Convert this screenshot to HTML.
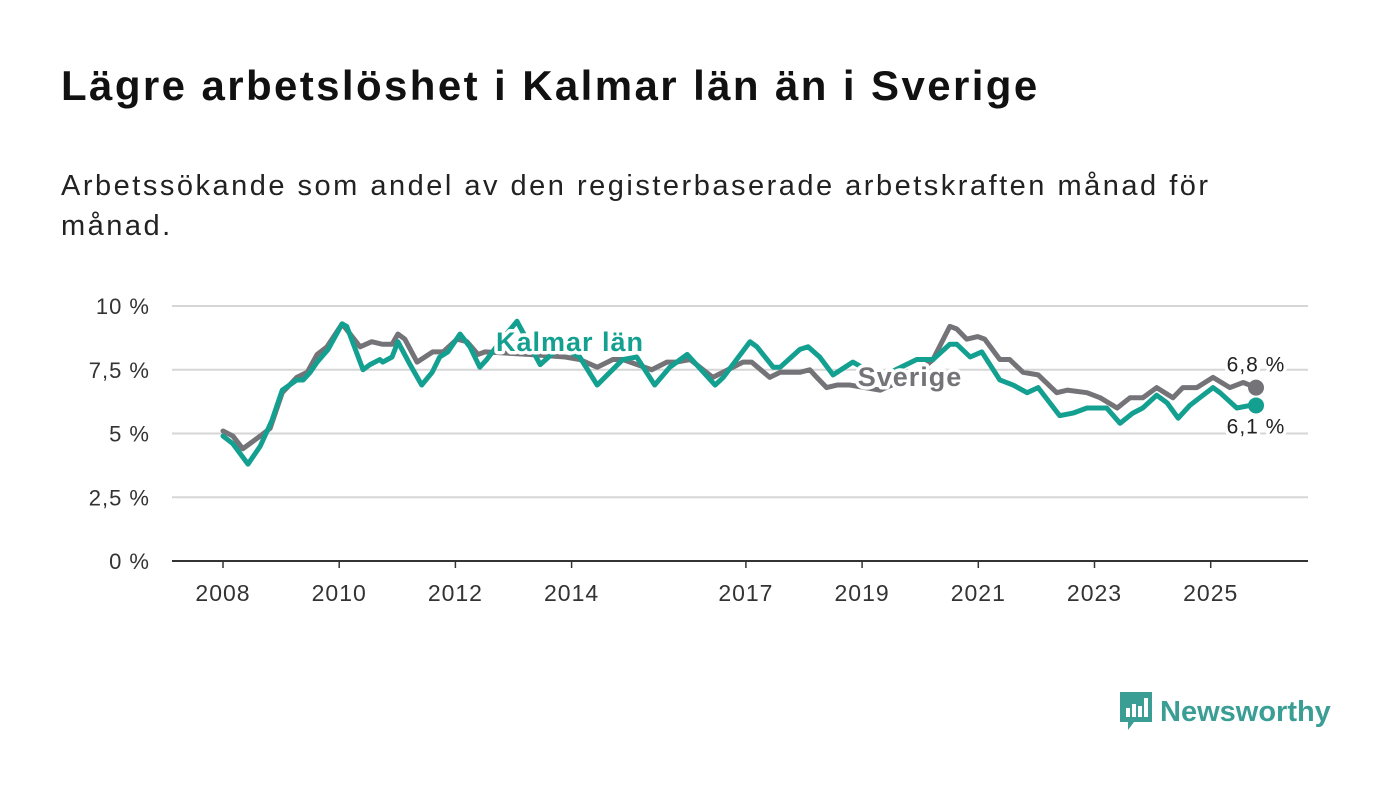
<!DOCTYPE html>
<html><head><meta charset="utf-8"><style>
body{margin:0;width:1400px;height:794px;background:#fff;font-family:"Liberation Sans",sans-serif;overflow:hidden;position:relative}
h1{position:absolute;left:61px;top:62px;margin:0;font-size:42px;font-weight:bold;color:#111;letter-spacing:2.4px;white-space:nowrap}
.sub{position:absolute;left:61px;top:166px;margin:0;font-size:29px;line-height:40px;color:#222;width:1300px;letter-spacing:2.5px;white-space:nowrap}
svg{position:absolute;left:0;top:0}
.logo{position:absolute;left:1118px;top:690px;display:flex;align-items:center}
</style></head><body>
<h1>Lägre arbetslöshet i Kalmar län än i Sverige</h1>
<p class="sub">Arbetssökande som andel av den registerbaserade arbetskraften månad för<br>månad.</p>
<svg id="chart" width="1400" height="794"></svg>
<div class="logo">
<svg width="36" height="44" style="position:static"><path d="M2 2h32v30h-18l-6 8v-8h-8z" fill="#3a9e95"/><rect x="8" y="18" width="4" height="9" fill="#fff"/><rect x="14" y="14" width="4" height="13" fill="#fff"/><rect x="20" y="16" width="4" height="11" fill="#fff"/><rect x="26" y="8" width="4" height="19" fill="#fff"/></svg>
<span style="font-size:29px;font-weight:bold;color:#3a9e95;margin-left:6px">Newsworthy</span></div>
<script>
const kalmarDates=[2008.00,2008.17,2008.43,2008.64,2008.84,2009.02,2009.27,2009.38,2009.50,2009.62,2009.81,2010.05,2010.13,2010.41,2010.53,2010.70,2010.75,2010.91,2011.01,2011.22,2011.42,2011.60,2011.73,2011.87,2012.08,2012.25,2012.42,2012.54,2012.77,2013.06,2013.46,2013.80,2014.14,2014.44,2014.88,2015.12,2015.43,2015.69,2015.99,2016.47,2016.61,2017.07,2017.19,2017.47,2017.59,2017.93,2018.07,2018.27,2018.50,2018.84,2019.31,2019.94,2020.22,2020.51,2020.63,2020.86,2021.06,2021.37,2021.60,2021.84,2022.03,2022.40,2022.63,2022.87,2023.21,2023.44,2023.66,2023.83,2024.07,2024.25,2024.44,2024.64,2024.81,2025.04,2025.16,2025.45,2025.68,2025.78];
const kalmarValues=[4.9,4.6,3.8,4.5,5.5,6.7,7.1,7.1,7.4,7.8,8.3,9.3,9.2,7.5,7.7,7.9,7.8,8.0,8.6,7.7,6.9,7.4,8.0,8.2,8.9,8.4,7.6,7.9,8.6,9.4,7.7,8.4,8.0,6.9,7.9,8.0,6.9,7.6,8.1,6.9,7.2,8.6,8.4,7.6,7.6,8.3,8.4,8.0,7.3,7.8,7.2,7.9,7.9,8.5,8.5,8.0,8.2,7.1,6.9,6.6,6.8,5.7,5.8,6.0,6.0,5.4,5.8,6.0,6.5,6.2,5.6,6.1,6.4,6.8,6.6,6.0,6.1,6.1];
const sverigeDates=[2008.00,2008.17,2008.34,2008.64,2008.81,2009.02,2009.27,2009.45,2009.62,2009.79,2010.05,2010.36,2010.56,2010.74,2010.91,2011.01,2011.13,2011.34,2011.61,2011.79,2012.03,2012.20,2012.39,2012.51,2013.28,2013.89,2014.14,2014.44,2014.71,2014.88,2015.38,2015.64,2015.81,2016.04,2016.43,2016.95,2017.10,2017.41,2017.59,2017.93,2018.10,2018.22,2018.39,2018.57,2018.79,2019.31,2019.91,2020.22,2020.51,2020.63,2020.80,2020.99,2021.11,2021.37,2021.54,2021.77,2022.03,2022.35,2022.53,2022.87,2023.10,2023.39,2023.61,2023.83,2024.07,2024.35,2024.52,2024.76,2025.04,2025.33,2025.56,2025.78];
const sverigeValues=[5.1,4.9,4.4,4.9,5.2,6.6,7.2,7.4,8.1,8.4,9.3,8.4,8.6,8.5,8.5,8.9,8.7,7.8,8.2,8.2,8.7,8.6,8.1,8.2,8.1,8.0,7.9,7.6,7.9,7.9,7.5,7.8,7.8,7.9,7.2,7.8,7.8,7.2,7.4,7.4,7.5,7.2,6.8,6.9,6.9,6.7,7.3,7.9,9.2,9.1,8.7,8.8,8.7,7.9,7.9,7.4,7.3,6.6,6.7,6.6,6.4,6.0,6.4,6.4,6.8,6.4,6.8,6.8,7.2,6.8,7.0,6.8];
const yTicks=[0,2.5,5,7.5,10];
const yTickLabels=["0 %","2,5 %","5 %","7,5 %","10 %"];
const xTicks=[2008,2010,2012,2014,2017,2019,2021,2023,2025];
const xTickLabels=["2008","2010","2012","2014","2017","2019","2021","2023","2025"];
const endLabels=["6,8 %","6,1 %"];

const NS="http://www.w3.org/2000/svg";
const svg=document.getElementById('chart');
const X=d=>223+(d-2008)*58.1;
const Y=v=>561-v*25.5;
function mk(t,a){const e=document.createElementNS(NS,t);for(const k in a)e.setAttribute(k,a[k]);svg.appendChild(e);return e;}
yTicks.forEach((v,i)=>{
  if(v>0){const g=mk('line',{x1:172,x2:1308,y1:Y(v),y2:Y(v),stroke:'#d6d6d6','stroke-width':2});
  
  }
  const t=mk('text',{x:150,y:Y(v)+8,'text-anchor':'end','font-size':22,fill:'#333','letter-spacing':1});t.textContent=yTickLabels[i];
  
  
});
const ax=mk('line',{x1:172,x2:1308,y1:561,y2:561,stroke:'#333','stroke-width':2});


xTicks.forEach((d,i)=>{
  const tk=mk('line',{x1:X(d),x2:X(d),y1:561,y2:568,stroke:'#333','stroke-width':1.5});
  
  
  const t=mk('text',{x:X(d),y:601,'text-anchor':'middle','font-size':23,fill:'#333','letter-spacing':1});t.textContent=xTickLabels[i];
  
  
});
function line(ds,vs,c,name){
  const p=mk('path',{d:ds.map((d,i)=>(i?'L':'M')+X(d)+','+Y(vs[i])).join(''),fill:'none',stroke:c,'stroke-width':5,'stroke-linejoin':'round','stroke-linecap':'round'});
  
  
  const n=ds.length-1;
  const c2=mk('circle',{cx:X(ds[n]),cy:Y(vs[n]),r:8,fill:c});
  
  
}
line(sverigeDates,sverigeValues,'#747378','sverige-line');
line(kalmarDates,kalmarValues,'#14a090','kalmar-line');
function lab(txt,x,y,c,size,name,w){
  const t=mk('text',{x:x,y:y,'text-anchor':'middle','font-size':size,'font-weight':w,fill:c,stroke:'#fff','stroke-width':7,'paint-order':'stroke','stroke-linejoin':'round','letter-spacing':1});
  t.textContent=txt;
  
  
}
lab('Kalmar län',570,351,'#14a090',27,'kalmar-series-label','bold');
lab('Sverige',910,386,'#747378',27,'sverige-series-label','bold');
lab(endLabels[0],X(sverigeDates[sverigeDates.length-1]),Y(sverigeValues[sverigeValues.length-1])-16,'#222',21,'sverige-end-label','normal');
lab(endLabels[1],X(kalmarDates[kalmarDates.length-1]),Y(kalmarValues[kalmarValues.length-1])+28,'#222',21,'kalmar-end-label','normal');
</script>
</body></html>
